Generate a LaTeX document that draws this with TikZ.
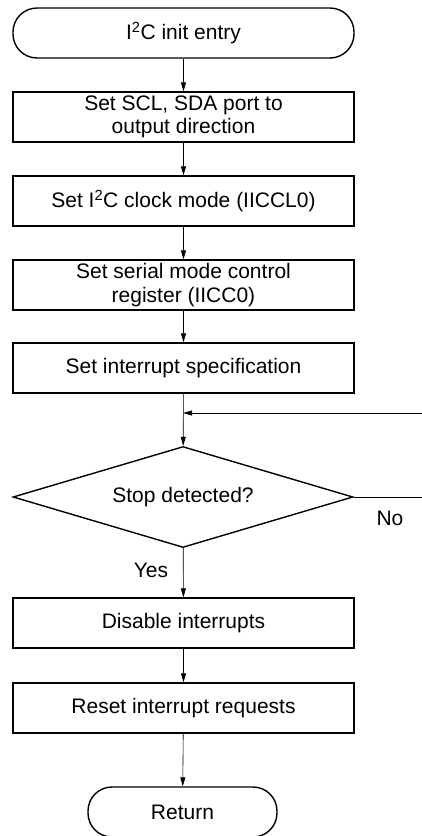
\documentclass[tikz,border=0pt]{standalone}
\usepackage{fontspec}
\setmainfont{Liberation Sans}
\usepackage{tikz}
\usetikzlibrary{arrows.meta,shapes.geometric,positioning}

\tikzset{
  stepbox/.style = {draw, line width=1.4pt, minimum width=341pt, minimum height=50pt,
                    align=center, inner sep=1pt},
  term/.style    = {draw, line width=1.4pt, rounded corners=24pt, minimum height=50pt},
  decide/.style  = {draw, line width=1.4pt, diamond, aspect=3.37, inner sep=0pt,
                    minimum width=340pt, minimum height=101pt},
  flow/.style    = {line width=0.6pt, -{Triangle[length=9pt,width=5pt]}},
}

\begin{document}
\begin{tikzpicture}[x=1pt, y=-1pt, font=\fontsize{21}{23.5}\selectfont]
      \useasboundingbox (0, 0) rectangle (422, 836);
      \node [term, minimum width=341pt] (start) at (183.5, 33) {I\textsuperscript{2}C init entry};
      \node [stepbox] (port) at (183.5, 117) {Set SCL, SDA port to\\output direction};
      \node [stepbox] (clock) at (183.5, 201) {Set I\textsuperscript{2}C clock mode (IICCL0)};
      \node [stepbox] (serial) at (183.5, 285) {Set serial mode control\\register (IICC0)};
      \node [stepbox] (intspec) at (183.5, 368) {Set interrupt specification};
      \node [decide] (stop) at (183, 497) {Stop detected?};
      \node [stepbox] (disable) at (183.5, 623) {Disable interrupts};
      \node [stepbox] (reset) at (183.5, 708) {Reset interrupt requests};
      \node [term, minimum width=189pt] (ret) at (182.5, 812) {Return};
      \coordinate (join) at (183, 413);
      \coordinate (loopin) at (422, 413);
      \coordinate (noout) at (422, 497);
      \node (yes) at (151, 570) {Yes};
      \node (no) at (390, 518) {No};
      \draw [flow] (start) -- (port);
      \draw [flow] (port) -- (clock);
      \draw [flow] (clock) -- (serial);
      \draw [flow] (serial) -- (intspec);
      \draw [flow] (intspec) -- (stop);
      \draw [flow] (loopin) -- (join);
      \draw [line width=0.6pt] (stop.east) -- (noout);
      \draw [flow] (stop) -- (disable);
      \draw [flow] (disable) -- (reset);
      \draw [flow] (reset) -- (ret);
    \end{tikzpicture}
\end{document}
